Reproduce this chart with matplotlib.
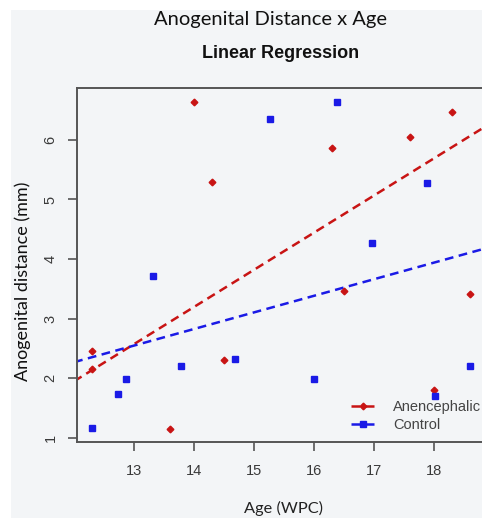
import matplotlib
matplotlib.use('Agg')
import matplotlib.pyplot as plt
from matplotlib.patches import Rectangle

# Anencephalic group (age in weeks post conception, distance in mm)
anen_age = [12.3, 12.3, 13.6, 14.0, 14.3, 14.5, 16.3, 16.5, 17.6, 18.3, 18.0, 18.6]
anen_dist = [2.45, 2.15, 1.15, 6.63, 5.30, 2.30, 5.86, 3.46, 6.04, 6.47, 1.81, 3.42]

# Control group
ctrl_age = [12.29, 12.73, 12.86, 13.31, 13.78, 14.69, 15.27, 16.0, 16.39, 16.97, 17.89, 18.01, 18.61]
ctrl_dist = [1.16, 1.73, 1.98, 3.71, 2.20, 2.32, 6.35, 1.99, 6.64, 4.27, 5.28, 1.70, 2.21]

# regression lines (end points)
fit_x = [12.0, 18.9]
anen_fit = [1.95, 6.25]
ctrl_fit = [2.27, 4.19]

xticks = [13, 14, 15, 16, 17, 18]
yticks = [1, 2, 3, 4, 5, 6]

red = '#c81414'
blue = '#1a1ae6'
grey_bg = '#f3f5f7'
axis_col = '#555555'

fig = plt.figure(figsize=(4.82, 5.18), dpi=100, facecolor='white')
# grey panel with thin white border at top and left
fig.patches.append(Rectangle((11/482, 0), 1, 1 - 10/518, transform=fig.transFigure,
                             facecolor=grey_bg, edgecolor='none', zorder=-10))

ax = fig.add_axes([77/482, 76/518, 408/482, 354/518])
ax.set_facecolor(grey_bg)

ax.plot(fit_x, anen_fit, color=red, lw=1.8, dashes=(3.5, 2.2), zorder=2)
ax.plot(fit_x, ctrl_fit, color=blue, lw=1.8, dashes=(3.5, 2.2), zorder=2)
ax.plot(anen_age, anen_dist, 'D', color=red, ms=3.4, mec=red, ls='none', zorder=3)
ax.plot(ctrl_age, ctrl_dist, 's', color=blue, ms=5, mec=blue, ls='none', zorder=3)

ax.set_xlim(12.048, 18.852)
ax.set_ylim(0.93, 6.87)
ax.set_xticks(xticks)
ax.set_yticks(yticks)
ax.set_yticklabels([str(v) for v in yticks], rotation=90, va='center')
ax.tick_params(axis='both', length=6.5, width=1.2, color=axis_col, labelsize=10.5,
               labelcolor='#3a3a3a')
ax.tick_params(axis='x', pad=9)
ax.tick_params(axis='y', pad=7.5)
for s in ax.spines.values():
    s.set_color(axis_col)
    s.set_linewidth(1.4)
for lab in ax.get_xticklabels() + ax.get_yticklabels():
    lab.set_family('Liberation Sans')

# legend built from proxy lines
h1, = ax.plot([], [], color=red, lw=1.8, dashes=(3.5, 2.2), marker='D', ms=3.4)
h2, = ax.plot([], [], color=blue, lw=1.8, dashes=(3.5, 2.2), marker='s', ms=5)
leg = ax.legend([h1, h2], ['Anencephalic', 'Control'], loc='lower left',
                bbox_to_anchor=(268/408, 0.011), frameon=False, handlelength=1.7,
                handletextpad=1.2, labelspacing=0.3, borderaxespad=0,
                prop={'family': 'Liberation Sans', 'size': 10.5})
for t in leg.get_texts():
    t.set_color('#444444')

fig.text(270/482, 1 - 20/518, 'Anogenital Distance x Age', ha='center', va='center',
         fontsize=14.5, family='Lato', color='#111111')
fig.text(281/482, 1 - 53/518, 'Linear Regression', ha='center', va='center',
         fontsize=13, family='Liberation Sans', weight='bold', color='#111111')
fig.text(284/482, 1 - 508/518, 'Age (WPC)', ha='center', va='center',
         fontsize=11.8, family='Lato', color='#222222')
fig.text(23/482, 1 - 281/518, 'Anogenital distance (mm)', ha='center', va='center',
         rotation=90, fontsize=13, family='Lato', color='#111111')

fig.savefig('out.png', dpi=100, facecolor=fig.get_facecolor())
